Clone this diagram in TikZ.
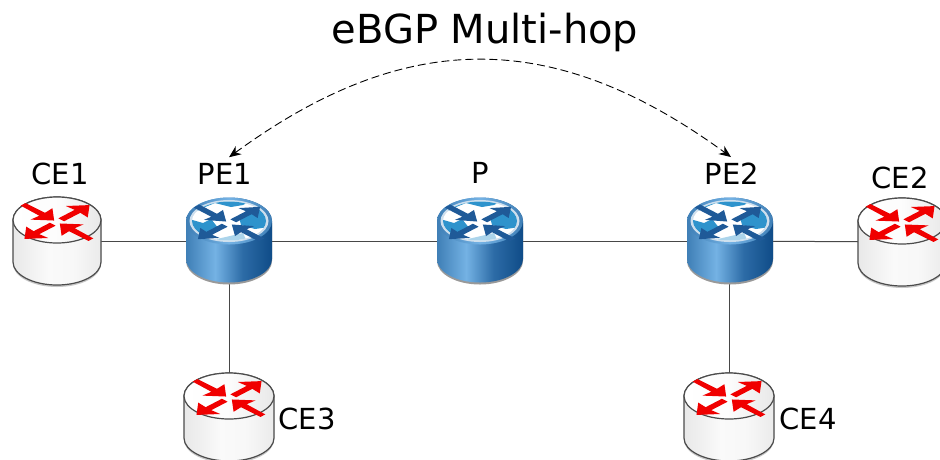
\documentclass[tikz,border=0pt]{standalone}
\usepackage{fontspec}
\setmainfont{DejaVu Sans}
\usetikzlibrary{arrows.meta}
\definecolor{wireC}{HTML}{484848}
\definecolor{bodyA}{HTML}{3F7FB6}
\definecolor{bodyB}{HTML}{74B2E4}
\definecolor{bodyC}{HTML}{2C6BA6}
\definecolor{bodyD}{HTML}{0F4C88}
\definecolor{arrowB}{HTML}{1F5A98}
\definecolor{skyA}{HTML}{2E93CC}
\definecolor{redA}{HTML}{F00000}
\pgfdeclarehorizontalshading{bluebody}{100bp}{
  color(0bp)=(bodyA); color(25bp)=(bodyA); color(42bp)=(bodyB); color(58bp)=(bodyC); color(75bp)=(bodyD); color(100bp)=(bodyD)}
\pgfdeclarehorizontalshading{whitebody}{100bp}{
  color(0bp)=(black!9); color(25bp)=(black!9); color(45bp)=(black!2); color(60bp)=(black!3); color(75bp)=(black!8); color(100bp)=(black!8)}
\tikzset{
  x=1pt,y=-1pt,
  wire/.style={draw=wireC,line width=1pt},
  lbl/.style={inner sep=0pt,font=\fontsize{29}{29}\selectfont,text=black},
  routerslot/.style={inner sep=0pt,minimum width=88pt,minimum height=86pt},
  session/.style={draw=black,line width=.9pt,dash pattern=on 8pt off 4pt,
    {Stealth[length=12pt,width=10pt,inset=4pt]}-{Stealth[length=12pt,width=10pt,inset=4pt]}},
}
% #1 centre x, #2 disc centre y, #3 radius x, #4 body height
\newcommand{\whiterouter}[4]{%
  \begin{scope}[shift={(#1,#2)}]
    \fill[black!22] (-#3,3) -- (-#3,#4+2) arc[start angle=180,end angle=360,x radius=#3pt,y radius=23pt] -- (#3,3) -- cycle;
    \path[draw=black!70,line width=1.2pt,shading=whitebody] (-#3,0) -- (-#3,#4) arc[start angle=180,end angle=360,x radius=#3pt,y radius=23pt] -- (#3,0) arc[start angle=0,end angle=180,x radius=#3pt,y radius=23pt] -- cycle;
    \path[draw=black!70,line width=1.2pt,left color=white,right color=black!9,middle color=black!1] (0,0) ellipse[x radius=#3pt,y radius=23pt];
    \begin{scope}[yshift=-2pt]
      \foreach \ang in {45,225}{
        \begin{scope}[yscale=.52,rotate=\ang]
          \fill[redA] (6,-4) -- (29,-4) -- (28,-15.5) -- (46,0) -- (28,15.5) -- (29,4) -- (6,4) -- cycle;
        \end{scope}}
      \foreach \ang in {135,315}{
        \begin{scope}[yscale=.52,rotate=\ang]
          \fill[redA] (48,-3.4) -- (21,-4) -- (22,-15.5) -- (4,0) -- (22,15.5) -- (21,4) -- (48,3.4) -- cycle;
        \end{scope}}
    \end{scope}
  \end{scope}}
\newcommand{\bluerouter}[2]{%
  \begin{scope}[shift={(#1,#2)}]
    \fill[black!40] (-43,2) -- (-43,40) arc[start angle=180,end angle=360,x radius=43pt,y radius=23.5pt] -- (43,2) -- cycle;
    \path[shading=bluebody] (-43,0) -- (-43,38) arc[start angle=180,end angle=360,x radius=43pt,y radius=23.5pt] -- (43,0) arc[start angle=0,end angle=180,x radius=43pt,y radius=23.5pt] -- cycle;
    \path[left color=bodyA,right color=bodyA,middle color=bodyB] (0,0) ellipse[x radius=43pt,y radius=23.5pt];
    \fill[white!75!bodyA] (0,0) ellipse[x radius=39.5pt,y radius=21pt];
    \begin{scope}
      \clip (0,0) ellipse[x radius=37pt,y radius=19.5pt];
      \fill[white] (-40,-25) rectangle (40,25);
      \fill[skyA] (-40,-25) -- (30,-25) -- (14,-16) -- (2,-14) -- (-14,-18) -- (-24,-14) -- (-40,-6) -- cycle;
      \fill[skyA] (40,-20) -- (22,-10) -- (10,-4) -- (12,4) -- (26,8) -- (40,6) -- cycle;
      \fill[skyA] (-40,-2) -- (-26,2) -- (-18,-2) -- (-10,8) -- (-20,16) -- (-40,14) -- cycle;
      \fill[white!60!skyA] (-12,18) -- (14,12) -- (20,25) -- (-14,25) -- cycle;
      \fill[white] (-34,-8) -- (-24,-9) -- (-20,-5) -- (-28,-3) -- cycle;
    \end{scope}
    \begin{scope}[yshift=-2pt]
      \foreach \ang in {45,225}{
        \begin{scope}[yscale=.52,rotate=\ang]
          \fill[arrowB] (6,-4) -- (28,-4) -- (27,-13.5) -- (44,0) -- (27,13.5) -- (28,4) -- (6,4) -- cycle;
        \end{scope}}
      \foreach \ang in {135,315}{
        \begin{scope}[yscale=.52,rotate=\ang]
          \fill[arrowB] (46,-4) -- (21,-4) -- (22,-13.5) -- (4,0) -- (22,13.5) -- (21,4) -- (46,4) -- cycle;
        \end{scope}}
    \end{scope}
  \end{scope}}
\begin{document}
\begin{tikzpicture}
\useasboundingbox (0,0) rectangle (940,459);
\clip (0,0) rectangle (940,459);
\fill[white] (0,0) rectangle (940,459);
% slots for routers
\node[routerslot] (ce1) at (57,241) {};
\node[routerslot] (pe1) at (229,241) {};
\node[routerslot] (p)   at (480,241) {};
\node[routerslot] (pe2) at (730,241) {};
\node[routerslot] (ce2) at (902,242) {};
\node[routerslot] (ce3) at (229,417) {};
\node[routerslot] (ce4) at (729,417) {};
% links
\draw[wire] (ce1.center) -- (pe1.center);
\draw[wire] (pe1.center) -- (p.center);
\draw[wire] (p.center) -- (pe2.center);
\draw[wire] (pe2.center) -- (ce2.center);
\draw[wire] (pe1.center) -- (ce3.center);
\draw[wire] (ce4.center) -- (ce4.center |- pe2.center);
% routers
\whiterouter{57}{220}{44}{42}
\whiterouter{229}{396}{45}{42}
\whiterouter{729}{396}{45}{42}
\whiterouter{902}{221}{44}{42}
\bluerouter{229}{221}
\bluerouter{480}{221}
\bluerouter{730}{221}
% labels
\node[lbl] (ce1t) at (60,174) {CE1};
\node[lbl] (pe1t) at (225,174) {PE1};
\node[lbl] (pt)   at (480,173) {P};
\node[lbl] (pe2t) at (732,174) {PE2};
\node[lbl] (ce2t) at (900,178) {CE2};
\node[lbl] (ce3t) at (307,419) {CE3};
\node[lbl] (ce4t) at (808,419) {CE4};
\node[inner sep=0pt,font=\fontsize{40}{40}\selectfont] (title) at (485,32) {eBGP Multi-hop};
% session
\coordinate (sl) at ([xshift=4pt,yshift=6pt]pe1t.north);
\coordinate (sr) at ([xshift=-1pt,yshift=6pt]pe2t.north);
\draw[session] (sl) .. controls (406,28) and (554,28) .. (sr);
\end{tikzpicture}
\end{document}
